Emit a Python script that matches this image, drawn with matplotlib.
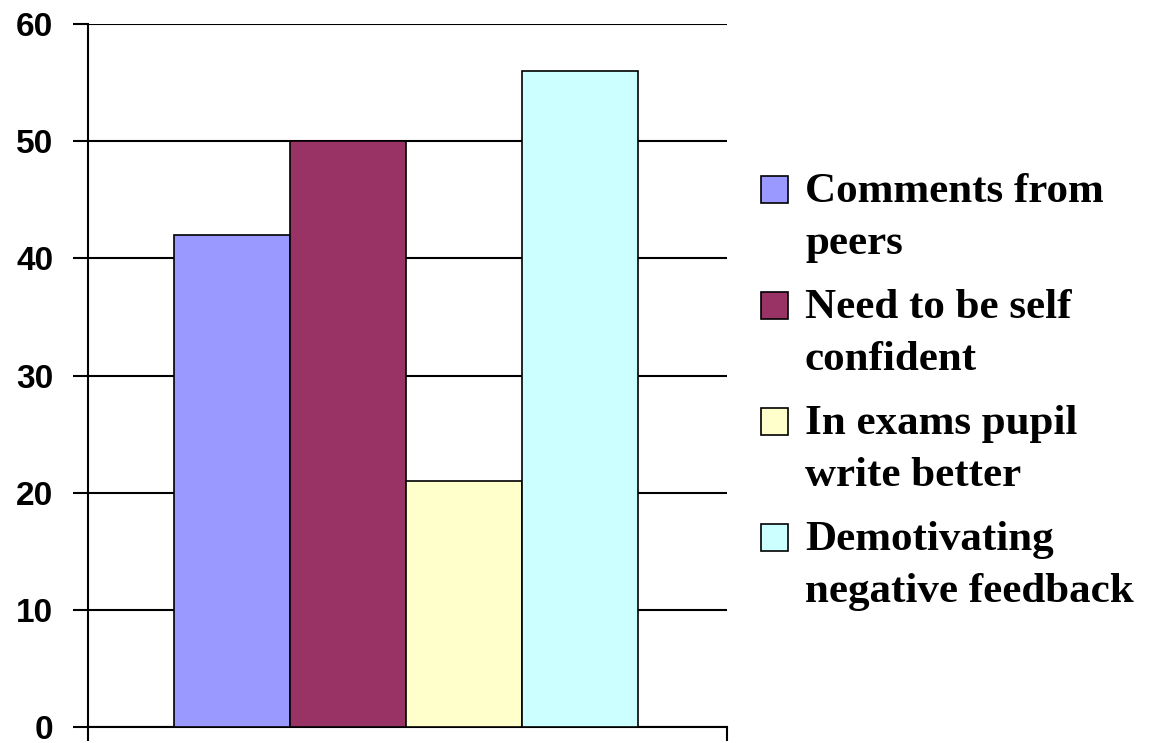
import numpy as np
import matplotlib
matplotlib.use("Agg")
import matplotlib.pyplot as plt
from matplotlib.patches import Rectangle

# data
series = ["Comments from\npeers", "Need to be self\nconfident",
          "In exams pupil\nwrite better", "Demotivating\nnegative feedback"]
values = [42, 50, 21, 56]
colors = ["#9999FF", "#993366", "#FFFFCC", "#CCFFFF"]
yticks = [0, 10, 20, 30, 40, 50, 60]

W, H = 1149, 743
fig = plt.figure(figsize=(W / 100, H / 100), dpi=100)
ax = fig.add_axes([88 / W, 1 - 727 / H, (727 - 88) / W, (727 - 24) / H])

# one category, four series side by side
bw = 116 / 639
x0 = 86 / 639
xs = x0 + bw * (np.arange(len(values)) + 0.5)
ax.set_axisbelow(True)
ax.bar(xs, values, width=bw, color=colors, edgecolor="black", linewidth=1.2, zorder=3)

ax.set_xlim(0, 1)
ax.set_ylim(0, 60)
ax.set_yticks(yticks)
ax.set_yticklabels([str(v) for v in yticks], fontsize=24, fontweight="bold",
                   family="Liberation Sans")
ax.set_xticks([0, 1])
ax.set_xticklabels([])
ax.yaxis.grid(True, color="black", linewidth=1.5)
ax.tick_params(axis="y", length=11, width=1.5, pad=14)
ax.tick_params(axis="x", length=10, width=1.5)
for s in ["top", "right"]:
    ax.spines[s].set_visible(False)
for s in ["left", "bottom"]:
    ax.spines[s].set_linewidth(1.5)

# legend drawn by hand so the box sits next to the first line
top_line = 190
step = 116
for i, (lab, c) in enumerate(zip(series, colors)):
    yc = top_line + i * step
    fig.patches.append(Rectangle((761 / W, 1 - (yc + 13) / H), 27 / W, 27 / H,
                                 transform=fig.transFigure, facecolor=c,
                                 edgecolor="black", linewidth=1.2))
    fig.text(805 / W, 1 - (yc + 28) / H, lab, fontsize=31, fontweight="bold",
             family="Liberation Serif", va="center", ha="left", linespacing=1.45)

fig.savefig("out.png", dpi=100)
